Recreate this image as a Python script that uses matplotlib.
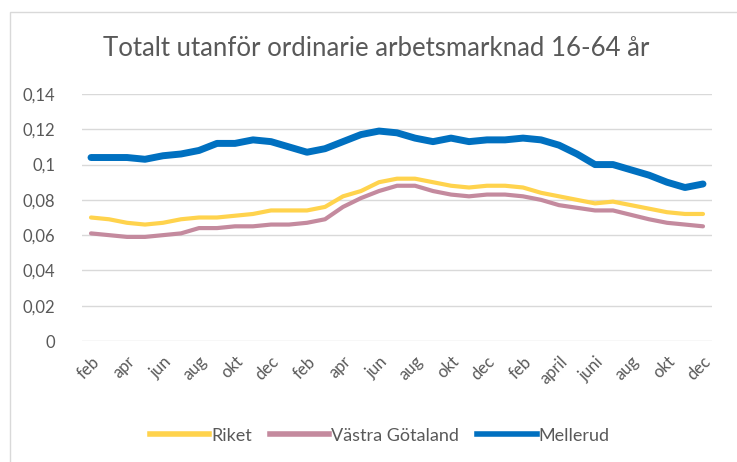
import matplotlib.pyplot as plt
import numpy as np
from matplotlib.lines import Line2D

# Data
months = ['feb', 'mar', 'apr', 'maj', 'jun', 'jul', 'aug', 'sep', 'okt', 'nov', 'dec',
          'jan', 'feb', 'mar', 'apr', 'maj', 'jun', 'jul', 'aug', 'sep', 'okt', 'nov', 'dec',
          'jan', 'feb', 'mars', 'april', 'maj', 'juni', 'juli', 'aug', 'sep', 'okt', 'nov', 'dec']

riket = [0.070, 0.069, 0.067, 0.066, 0.067, 0.069, 0.070, 0.070, 0.071, 0.072, 0.074,
         0.074, 0.074, 0.076, 0.082, 0.085, 0.090, 0.092, 0.092, 0.090, 0.088, 0.087,
         0.088, 0.088, 0.087, 0.084, 0.082, 0.080, 0.078, 0.079, 0.077, 0.075, 0.073,
         0.072, 0.072]

vastra_gotaland = [0.061, 0.060, 0.059, 0.059, 0.060, 0.061, 0.064, 0.064, 0.065, 0.065, 0.066,
                   0.066, 0.067, 0.069, 0.076, 0.081, 0.085, 0.088, 0.088, 0.085, 0.083, 0.082,
                   0.083, 0.083, 0.082, 0.080, 0.077, 0.0755, 0.074, 0.074, 0.0715, 0.069, 0.067,
                   0.066, 0.065]

mellerud = [0.104, 0.104, 0.104, 0.103, 0.105, 0.106, 0.108, 0.112, 0.112, 0.114, 0.113,
            0.110, 0.107, 0.109, 0.113, 0.117, 0.119, 0.118, 0.115, 0.113, 0.115, 0.113,
            0.114, 0.114, 0.115, 0.114, 0.111, 0.106, 0.100, 0.100, 0.097, 0.094, 0.090,
            0.087, 0.089]

yticks = [0, 0.02, 0.04, 0.06, 0.08, 0.1, 0.12, 0.14]
ytick_labels = ['0', '0,02', '0,04', '0,06', '0,08', '0,1', '0,12', '0,14']

plt.rcParams['font.family'] = ['Lato', 'DejaVu Sans']
grey = '#595959'

fig = plt.figure(figsize=(7.37, 4.62), dpi=100)
ax = fig.add_axes([82 / 737, 121 / 462, 630 / 737, 247 / 462])

x = np.arange(len(months))
ax.plot(x, riket, color='#FFD34D', lw=3, solid_capstyle='round', label='Riket')
ax.plot(x, vastra_gotaland, color='#C48A9E', lw=3, solid_capstyle='round', label='Västra Götaland')
ax.plot(x, mellerud, color='#0070C0', lw=5, solid_capstyle='round', label='Mellerud')

ax.set_xlim(-0.5, len(months) - 0.5)
ax.set_ylim(0, 0.14)
ax.set_yticks(yticks)
ax.set_yticklabels(ytick_labels)
ax.set_xticks(x[::2])
ax.set_xticklabels(months[::2], rotation=45, ha='right', va='top', rotation_mode='anchor')
ax.tick_params(axis='both', length=0, colors=grey, labelsize=12)
ax.tick_params(axis='y', pad=19)
ax.tick_params(axis='x', pad=9)
ax.grid(axis='y', color='#D9D9D9', lw=1)
ax.set_axisbelow(True)
for s in ax.spines.values():
    s.set_visible(False)

fig.text(0.51, 0.895, 'Totalt utanför ordinarie arbetsmarknad 16-64 år',
         ha='center', va='center', fontsize=18.5, color=grey)

handles = [Line2D([], [], color='#FFD34D', lw=4),
           Line2D([], [], color='#C48A9E', lw=4),
           Line2D([], [], color='#0070C0', lw=4)]
fig.legend(handles, ['Riket', 'Västra Götaland', 'Mellerud'], loc='center',
           bbox_to_anchor=(0.515, 0.057), ncol=3, frameon=False, fontsize=13,
           labelcolor=grey, handlelength=3.3, handletextpad=0.1, columnspacing=1.0)

# chart area border (left/top visible)
fig.add_artist(plt.Rectangle((10 / 737, -0.1), 1.1, (462 - 12) / 462 + 0.1,
                             transform=fig.transFigure, fill=False, ec='#D9D9D9', lw=1))

fig.savefig('out.png', dpi=100)
